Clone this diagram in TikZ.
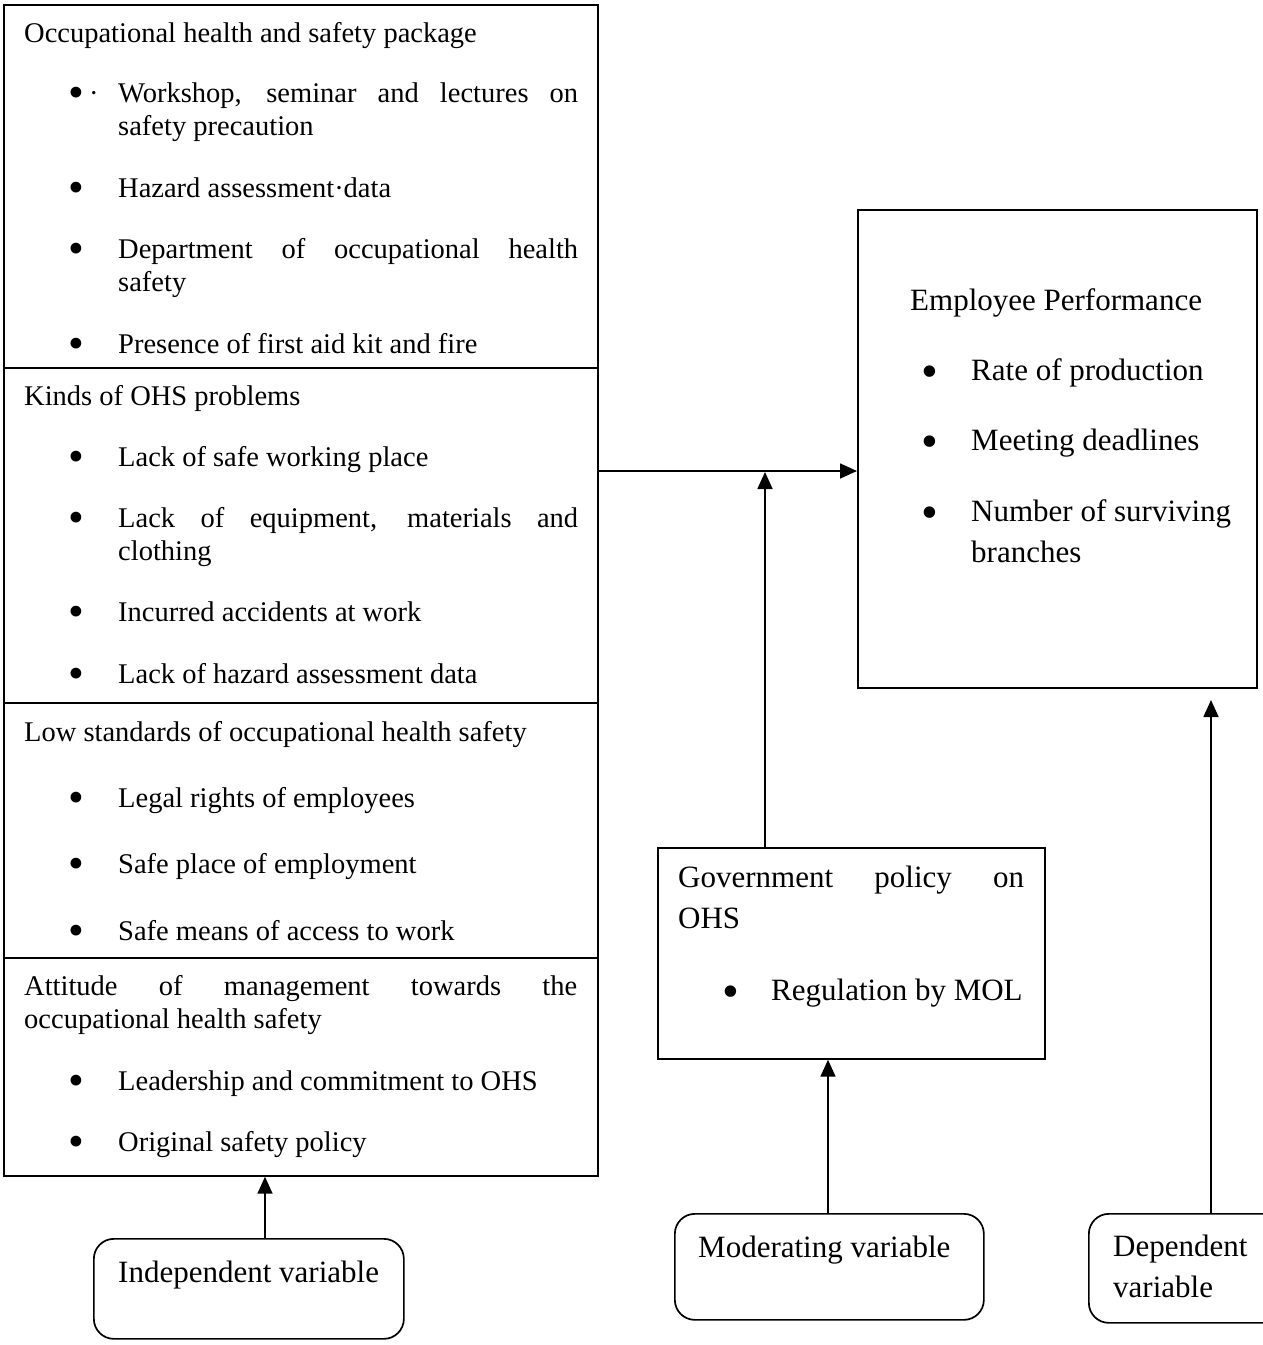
\documentclass[tikz,border=0pt]{standalone}
\usepackage{fontspec}
\setmainfont{Liberation Serif}
\usetikzlibrary{arrows.meta}
\newcommand\Lsz{\fontsize{28.5}{33}\selectfont}
\newcommand\Rsz{\fontsize{31}{41}\selectfont}
\newcommand\Lbul{{\fontsize{45}{45}\selectfont\raisebox{-5.7pt}{•}}}
\newcommand\Rbul{{\fontsize{48}{48}\selectfont\raisebox{-7pt}{•}}}
\begin{document}
\begin{tikzpicture}[x=1pt,y=-1pt,
 box/.style={draw, line width=1.7pt, inner sep=0pt, anchor=north west},
 rbox/.style={box, rounded corners=20pt},
 ln/.style={anchor=base west, inner sep=0pt, font=\Lsz},
 rn/.style={anchor=base west, inner sep=0pt, font=\Rsz},
 arr/.style={line width=1.7pt, -{Triangle[length=17pt,width=15pt]}},
]
\clip (0,0) rectangle (1263,1345);
% left stacked boxes
\node[box, minimum width=594pt, minimum height=363pt] (s1) at (3,4) {};
\node[box, minimum width=594pt, minimum height=335pt] (s2) at (3,367) {};
\node[box, minimum width=594pt, minimum height=255pt] (s3) at (3,702) {};
\node[box, minimum width=594pt, minimum height=218pt] (s4) at (3,957) {};
% right boxes
\node[box, minimum width=399pt, minimum height=478pt] (perf) at (857,209) {};
\node[box, minimum width=387pt, minimum height=211pt] (gov) at (657,847) {};
\node[rbox, minimum width=309pt, minimum height=106pt] (mod) at (674,1213) {};
\node[rbox, minimum width=220pt, minimum height=109pt] (dep) at (1088,1213) {};
\node[rbox, minimum width=310pt, minimum height=100pt] (ind) at (93,1238) {};

% section 1
\node[ln] (t1) at (24,42) {Occupational health and safety package};
\node[ln] (b11) at (68,102) {\Lbul};
\node[ln] (d11) at (89,102) {·};
\node[ln] (l11a) at (118,102) {\makebox[460pt][s]{Workshop, seminar and lectures on}};
\node[ln] (l11b) at (118,135) {safety precaution};
\node[ln] (b12) at (68,197) {\Lbul};
\node[ln] (l12) at (118,197) {Hazard assessment·data};
\node[ln] (b13) at (68,258) {\Lbul};
\node[ln] (l13a) at (118,258) {\makebox[460pt][s]{Department of occupational health}};
\node[ln] (l13b) at (118,291) {safety};
\node[ln] (b14) at (68,353) {\Lbul};
\node[ln] (l14) at (118,353) {Presence of first aid kit and fire};
% section 2
\node[ln] (t2) at (24,405) {Kinds of OHS problems};
\node[ln] (b21) at (68,466) {\Lbul};
\node[ln] (l21) at (118,466) {Lack of safe working place};
\node[ln] (b22) at (68,527) {\Lbul};
\node[ln] (l22a) at (118,527) {\makebox[460pt][s]{Lack of equipment, materials and}};
\node[ln] (l22b) at (118,560) {clothing};
\node[ln] (b23) at (68,621) {\Lbul};
\node[ln] (l23) at (118,621) {Incurred accidents at work};
\node[ln] (b24) at (68,683) {\Lbul};
\node[ln] (l24) at (118,683) {Lack of hazard assessment data};
% section 3
\node[ln] (t3) at (24,741) {Low standards of occupational health safety};
\node[ln] (b31) at (68,807) {\Lbul};
\node[ln] (l31) at (118,807) {Legal rights of employees};
\node[ln] (b32) at (68,873) {\Lbul};
\node[ln] (l32) at (118,873) {Safe place of employment};
\node[ln] (b33) at (68,940) {\Lbul};
\node[ln] (l33) at (118,940) {Safe means of access to work};
% section 4
\node[ln] (t4a) at (24,995) {\makebox[553pt][s]{Attitude of management towards the}};
\node[ln] (t4b) at (24,1028) {occupational health safety};
\node[ln] (b41) at (68,1090) {\Lbul};
\node[ln] (l41) at (118,1090) {Leadership and commitment to OHS};
\node[ln] (b42) at (68,1151) {\Lbul};
\node[ln] (l42) at (118,1151) {Original safety policy};

% employee performance
\node[rn] (pt) at (910,310) {Employee Performance};
\node[rn] (pb1) at (921.6,380) {\Rbul};
\node[rn] (p1) at (971,380) {Rate of production};
\node[rn] (pb2) at (921.6,450) {\Rbul};
\node[rn] (p2) at (971,450) {Meeting deadlines};
\node[rn] (pb3) at (921.6,521) {\Rbul};
\node[rn] (p3a) at (971,521) {Number of surviving};
\node[rn] (p3b) at (971,562) {branches};

% government
\node[rn] (gt1) at (678,887) {\makebox[346pt][s]{Government policy on}};
\node[rn] (gt2) at (678,928) {OHS};
\node[rn] (gb1) at (722.6,1000) {\Rbul};
\node[rn] (g1) at (771,1000) {Regulation by MOL};

% variable labels
\node[rn] (mt) at (698,1257) {Moderating variable};
\node[rn] (dt1) at (1113,1256) {Dependent};
\node[rn] (dt2) at (1113,1297) {variable};
\node[rn] (it) at (118,1282) {Independent variable};

% connectors
\coordinate (j) at (765,472);
\coordinate (mx) at (828,0);
\coordinate (ix) at (265,0);
\coordinate (dtip) at (1211,700);
\draw[arr] (s2.east |- 0,471) -- (perf.west |- 0,471);
\draw[arr] (gov.north -| j) -- (j);
\draw[arr] (mod.north -| mx) -- (gov.south -| mx);
\draw[arr] (ind.north -| ix) -- (s4.south -| ix);
\draw[arr] (dep.north -| dtip) -- (dtip);
\end{tikzpicture}
\end{document}
